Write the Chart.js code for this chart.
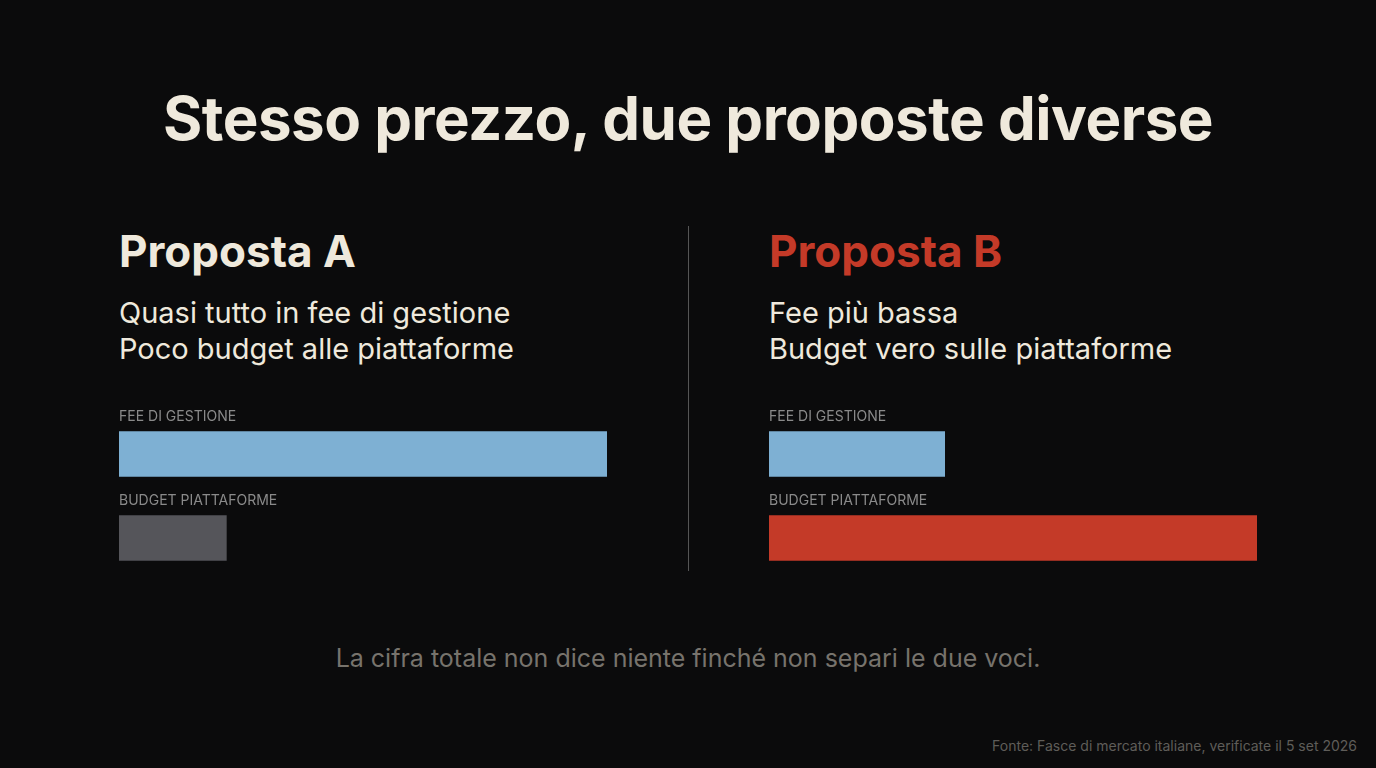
<!DOCTYPE html>
<html><head><meta charset="utf-8">
<script src="https://cdn.jsdelivr.net/npm/chart.js@4"></script>
<style>
body{margin:0;width:1376px;height:768px;background:#0b0b0c;font-family:Inter,"Noto Sans",sans-serif;overflow:hidden;position:relative}
.t{position:absolute;white-space:nowrap}
h1{position:absolute;left:0;width:1376px;top:82px;margin:0;text-align:center;font-size:60px;font-weight:700;color:#efe9dc;letter-spacing:-0.5px}
.h{font-size:44px;font-weight:700;top:224px}
.s{font-size:29px;color:#efe9dc;top:295px;line-height:36px}
.l{font-size:14px;color:#8a8a8a}
.c{position:absolute;width:488px;height:168px;top:412px}
</style></head><body>
<h1>Stesso prezzo, due proposte diverse</h1>
<div class="t h" style="left:119px;color:#efe9dc">Proposta A</div>
<div class="t h" style="left:769px;color:#c43a28">Proposta B</div>
<div class="t s" style="left:119px">Quasi tutto in fee di gestione<br>Poco budget alle piattaforme</div>
<div class="t s" style="left:769px">Fee più bassa<br>Budget vero sulle piattaforme</div>
<div style="position:absolute;left:688px;top:226px;width:1px;height:345px;background:#555"></div>
<div class="c" style="left:119px"><canvas id="chartA"></canvas></div>
<div class="c" style="left:769px"><canvas id="chartB"></canvas></div>
<div class="t l" style="left:119px;top:407px">FEE DI GESTIONE</div>
<div class="t l" style="left:119px;top:491px">BUDGET PIATTAFORME</div>
<div class="t l" style="left:769px;top:407px">FEE DI GESTIONE</div>
<div class="t l" style="left:769px;top:491px">BUDGET PIATTAFORME</div>
<div class="t" style="left:0;width:1376px;text-align:center;top:643px;font-size:25px;color:#77736c">La cifra totale non dice niente finché non separi le due voci.</div>
<div class="t" style="right:19px;top:737px;font-size:14px;color:#5f5d59">Fonte: Fasce di mercato italiane, verificate il 5 set 2026</div>
<script>
// Data
const categories = ['Fee di gestione', 'Budget piattaforme'];
const valuesA = [100, 22];
const valuesB = [36, 100];
const colorsA = ['#7eb0d3', '#55555a'];
const colorsB = ['#7eb0d3', '#c43a28'];

function makeChart(id, data, colors) {
  new Chart(document.getElementById(id), {
    type: 'bar',
    data: { labels: categories, datasets: [{ data: data, backgroundColor: colors, barThickness: 45 }] },
    options: {
      indexAxis: 'y',
      responsive: true,
      maintainAspectRatio: false,
      animation: false,
      layout: { padding: 0 },
      plugins: { legend: { display: false }, tooltip: { enabled: false } },
      scales: {
        x: { display: false, min: 0, max: 100 },
        y: { display: false }
      }
    }
  });
}
makeChart('chartA', valuesA, colorsA);
makeChart('chartB', valuesB, colorsB);
</script>
</body></html>
